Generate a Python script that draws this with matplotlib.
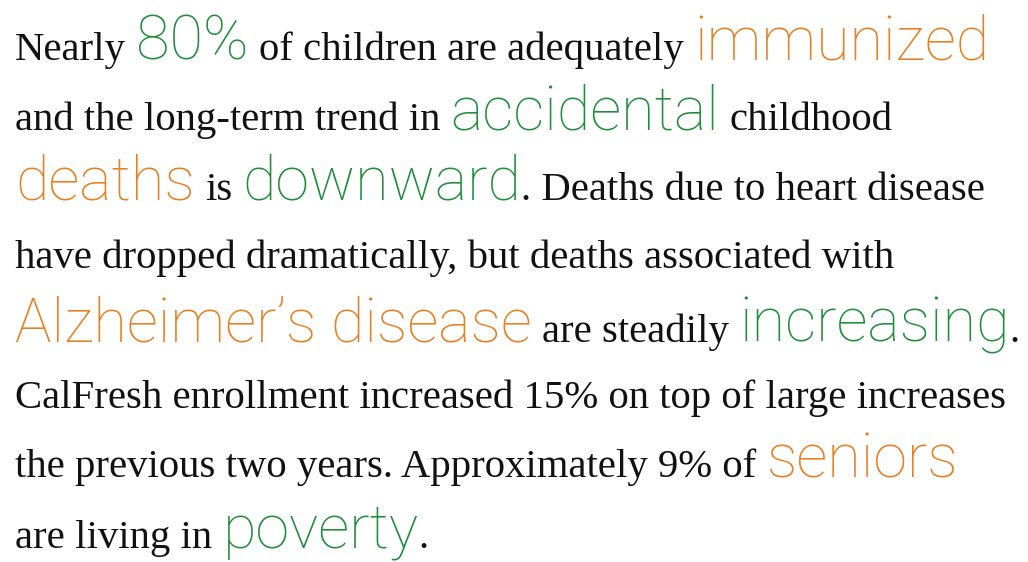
import matplotlib
matplotlib.use("Agg")
from matplotlib import pyplot as plt
from matplotlib.font_manager import FontProperties

GREEN = "#218c3c"
ORANGE = "#e67e22"

# Each line is a list of (text, style, space_before)
line_1 = [("Nearly", "body", False), ("80%", "green", True),
          ("of children are adequately", "body", True), ("immunized", "orange", True)]
line_2 = [("and the long-term trend in", "body", False), ("accidental", "green", True),
          ("childhood", "body", True)]
line_3 = [("deaths", "orange", False), ("is", "body", True), ("downward", "green", True),
          (". Deaths due to heart disease", "body", False)]
line_4 = [("have dropped dramatically, but deaths associated with", "body", False)]
line_5 = [("Alzheimer\u2019s disease", "orange", False), ("are steadily", "body", True),
          ("increasing", "green", True), (".", "body", False)]
line_6 = [("CalFresh enrollment increased 15% on top of large increases", "body", False)]
line_7 = [("the previous two years. Approximately 9% of", "body", False),
          ("seniors", "orange", True)]
line_8 = [("are living in", "body", False), ("poverty", "green", True), (".", "body", False)]

lines = [line_1, line_2, line_3, line_4, line_5, line_6, line_7, line_8]
baselines = [60, 130, 200, 268, 342, 408, 477, 548]

W, H = 1028, 562
LEFT = 15

body_font = FontProperties(family=["Liberation Serif"], size=29.3)
accent_font = FontProperties(family=["Roboto"], weight="light", size=44)
styles = {
    "body": (body_font, "#111111"),
    "green": (accent_font, GREEN),
    "orange": (accent_font, ORANGE),
}

fig = plt.figure(figsize=(W / 100, H / 100), dpi=100)
ax = fig.add_axes([0, 0, 1, 1])
ax.set_xlim(0, W)
ax.set_ylim(H, 0)
ax.axis("off")
renderer = fig.canvas.get_renderer()


def text_width(s, font):
    t = ax.text(0, 0, s, fontproperties=font)
    w = t.get_window_extent(renderer).width
    t.remove()
    return w


space_w = text_width("x x", body_font) - text_width("xx", body_font)

for segs, y in zip(lines, baselines):
    x = LEFT
    for s, style, space in segs:
        font, color = styles[style]
        if space:
            x += space_w
        t = ax.text(x, y, s, fontproperties=font, color=color,
                    ha="left", va="baseline")
        x += t.get_window_extent(renderer).width

fig.savefig("out.png", dpi=100)
plt.close(fig)
